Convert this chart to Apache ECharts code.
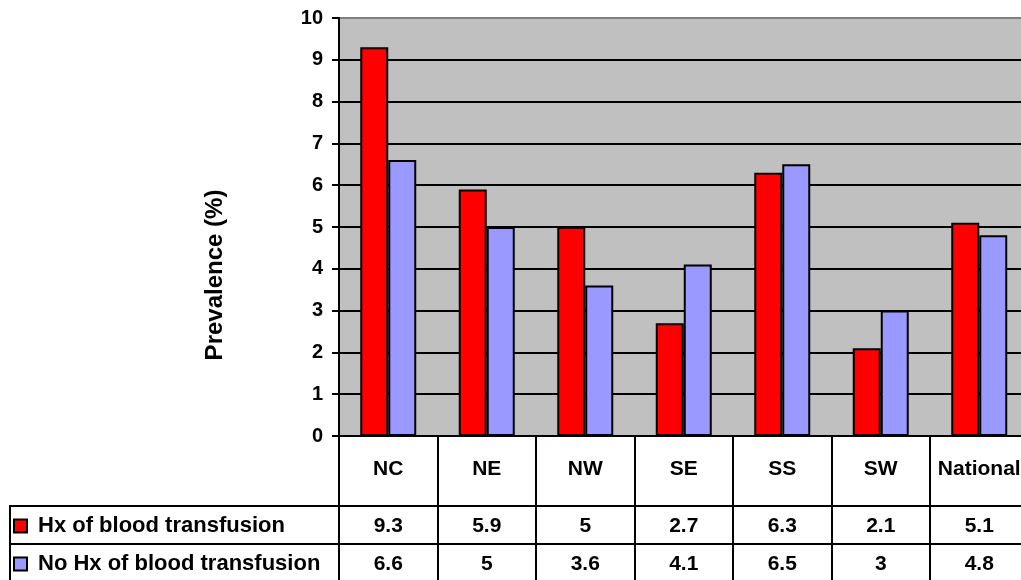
<!DOCTYPE html>
<html>
<head>
<meta charset="utf-8">
<script src="https://cdn.jsdelivr.net/npm/echarts@6/dist/echarts.min.js"></script>
<style>
  html, body { margin: 0; padding: 0; background: #fff; }
  #chart { width: 1021px; height: 580px; }
</style>
</head>
<body>
<div id="chart"></div>
<script>
// Regions and prevalence (%) by blood transfusion history
const regions = ['NC', 'NE', 'NW', 'SE', 'SS', 'SW', 'National'];
const hxTransfusion = [9.3, 5.9, 5, 2.7, 6.3, 2.1, 5.1];
const noHxTransfusion = [6.6, 5, 3.6, 4.1, 6.5, 3, 4.8];
const seriesNames = ['Hx of blood transfusion', 'No Hx of blood transfusion'];
const yTicks = [0, 1, 2, 3, 4, 5, 6, 7, 8, 9, 10];

const FONT = '"Liberation Sans", Arial, sans-serif';
const RED = '#ff0000';
const BLUE = '#9999ff';

const chart = echarts.init(document.getElementById('chart'), null, { renderer: 'canvas' });

const plotLeft = 339, plotTop = 18, plotBottomY = 436, plotWidth = 689.5;
const row1Y = 506, row2Y = 544;

// grid line colours: black inside, grey frame at the top
const splitColors = yTicks.map((t, i) => (i === yTicks.length - 1 ? '#808080' : '#000'));

const textStyle = (size) => ({ color: '#000', fontFamily: FONT, fontWeight: 'bold', fontSize: size });

function tableRowAxis(values, margin) {
  return {
    type: 'category',
    gridIndex: 0,
    position: 'bottom',
    data: values.map(String),
    axisLine: { show: false },
    axisTick: { show: false },
    splitLine: { show: false },
    axisLabel: Object.assign({ interval: 0, margin: margin }, textStyle(21))
  };
}

chart.setOption({
  animation: false,
  backgroundColor: '#fff',
  grid: {
    left: plotLeft,
    top: plotTop,
    width: plotWidth,
    height: plotBottomY - plotTop,
    outerBoundsMode: 'none',
    containLabel: false,
    show: true,
    backgroundColor: '#c0c0c0',
    borderColor: '#808080',
    borderWidth: 2
  },
  legend: {
    orient: 'vertical',
    left: 13,
    top: 514,
    padding: 0,
    itemWidth: 13,
    itemHeight: 13,
    itemGap: 14,
    icon: 'rect',
    data: seriesNames,
    textStyle: Object.assign({ lineHeight: 24, padding: [0, 0, 0, 6] }, textStyle(22))
  },
  xAxis: [
    {
      type: 'category',
      data: regions,
      axisLine: { lineStyle: { color: '#000', width: 2 } },
      axisTick: { show: true, length: 160, interval: 0, lineStyle: { color: '#000', width: 2 } },
      axisLabel: Object.assign({ interval: 0, margin: 23 }, textStyle(21))
    },
    tableRowAxis(hxTransfusion, 80),
    tableRowAxis(noHxTransfusion, 118)
  ],
  yAxis: {
    type: 'value',
    min: 0,
    max: 10,
    interval: 1,
    name: 'Prevalence (%)',
    nameLocation: 'middle',
    nameRotate: 90,
    nameGap: 112,
    nameTextStyle: Object.assign({ padding: [0, 96, 0, 0] }, textStyle(24)),
    axisLine: { show: true, lineStyle: { color: '#000', width: 2 } },
    axisTick: { show: true, inside: false, length: 7, lineStyle: { color: '#000', width: 2 } },
    axisLabel: Object.assign({ margin: 16 }, textStyle(20)),
    splitLine: { show: true, lineStyle: { color: splitColors, width: 2 } }
  },
  series: [
    {
      name: seriesNames[0],
      type: 'bar',
      data: hxTransfusion,
      barWidth: 28,
      barGap: '0%',
      itemStyle: { color: RED, borderColor: '#000', borderWidth: 2 }
    },
    {
      name: seriesNames[1],
      type: 'bar',
      data: noHxTransfusion,
      barWidth: 28,
      barGap: '0%',
      itemStyle: { color: BLUE, borderColor: '#000', borderWidth: 2 }
    }
  ],
  graphic: [
    // y-axis line continues down through the table
    { type: 'line', shape: { x1: plotLeft, y1: plotBottomY, x2: plotLeft, y2: 580 }, style: { stroke: '#000', lineWidth: 2 } },
    // table row separators
    { type: 'line', shape: { x1: 10, y1: row1Y, x2: 1021, y2: row1Y }, style: { stroke: '#000', lineWidth: 2 } },
    { type: 'line', shape: { x1: 10, y1: row2Y, x2: 1021, y2: row2Y }, style: { stroke: '#000', lineWidth: 2 } },
    // left edge of the legend cells
    { type: 'line', shape: { x1: 10, y1: row1Y - 1, x2: 10, y2: 580 }, style: { stroke: '#000', lineWidth: 2 } }
  ]
});
</script>
</body>
</html>
